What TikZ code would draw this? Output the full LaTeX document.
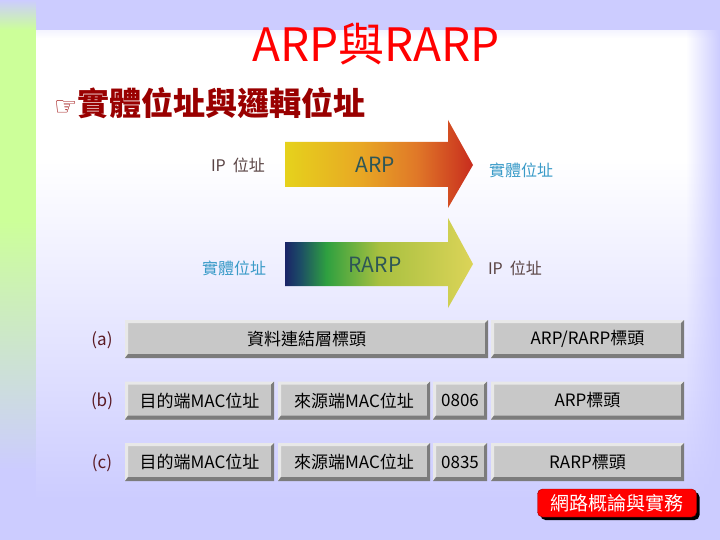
\documentclass[tikz,border=0pt]{standalone}
\usepackage{fontspec}
\setmainfont{Noto Sans CJK TC}
\newfontfamily\symfont{DejaVu Sans}
\usetikzlibrary{fadings,shadows}

% slide colours
\definecolor{slidebg}{HTML}{CCCCFF}
\definecolor{stripgreen}{HTML}{CCFF99}
\definecolor{titlered}{HTML}{FF0000}
\definecolor{headred}{HTML}{990000}
\definecolor{labelteal}{HTML}{3A9BC8}
\definecolor{labelbrown}{HTML}{5A4444}
\definecolor{arrowtext}{HTML}{2E5656}
\definecolor{cellgray}{HTML}{C8C8C8}
\definecolor{cellhi}{HTML}{E8E8E8}
\definecolor{cellshade}{HTML}{7C7C7C}
\definecolor{rowlabel}{HTML}{5A1A24}

% arrow colours
\definecolor{arpA}{HTML}{E6D21C}
\definecolor{arpB}{HTML}{E8A824}
\definecolor{arpC}{HTML}{E07828}
\definecolor{arpD}{HTML}{C82C1E}
\definecolor{rarpA}{HTML}{1A2468}
\definecolor{rarpB}{HTML}{1C4C66}
\definecolor{rarpC}{HTML}{2EA040}
\definecolor{rarpD}{HTML}{A8C040}
\definecolor{rarpE}{HTML}{DCD458}

\pgfdeclarehorizontalshading{arpshade}{100bp}{color(0bp)=(arpA); color(25bp)=(arpA); color(45bp)=(arpB); color(60bp)=(arpC); color(75bp)=(arpD); color(100bp)=(arpD)}
\pgfdeclarehorizontalshading{rarpshade}{100bp}{color(0bp)=(rarpA); color(25bp)=(rarpA); color(29bp)=(rarpB); color(36bp)=(rarpC); color(50bp)=(rarpD); color(75bp)=(rarpE); color(100bp)=(rarpE)}

\tikzfading[name=fadeleft, left color=transparent!100, right color=transparent!0]
\tikzfading[name=fadedown, top color=transparent!0, bottom color=transparent!100]

\newcommand{\fsz}[1]{\fontsize{#1}{#1}\selectfont}

\tikzset{
  cell/.style={fill=cellgray, minimum height=38pt, inner sep=0pt, font=\fsz{17},
    path picture={
      \fill[cellhi] (path picture bounding box.south west) -- (path picture bounding box.north west)
        -- (path picture bounding box.north east) -- ([xshift=-3pt,yshift=-3pt]path picture bounding box.north east)
        -- ([xshift=3pt,yshift=-3pt]path picture bounding box.north west) -- ([xshift=3pt,yshift=4pt]path picture bounding box.south west) -- cycle;
      \fill[cellshade] (path picture bounding box.south west) -- (path picture bounding box.south east)
        -- (path picture bounding box.north east) -- ([xshift=-3pt,yshift=-3pt]path picture bounding box.north east)
        -- ([xshift=-3pt,yshift=4pt]path picture bounding box.south east) -- ([xshift=3pt,yshift=4pt]path picture bounding box.south west) -- cycle;
    }},
  rowtag/.style={text=rowlabel, font=\fsz{17}},
  addr/.style={font=\fsz{16}},
  proto/.style={text=arrowtext, font=\fsz{21}},
  footer/.style={fill=red, draw=red!60!black, rounded corners=5pt, text=white, font=\fsz{19},
    minimum width=159pt, minimum height=28pt, inner sep=0pt,
    drop shadow={shadow xshift=3pt, shadow yshift=-3pt, fill=black, opacity=1}}
}

\begin{document}
\begin{tikzpicture}[x=1pt, y=-1pt]
    \useasboundingbox (0,0) rectangle (720,540);

    % Background of the slide
    \fill[slidebg] (0,0) rectangle (720,540);
    \shade[top color=slidebg, bottom color=stripgreen] (0,0) rectangle (36,30);
    \fill[stripgreen] (0,30) rectangle (36,220);
    \shade[top color=stripgreen, bottom color=slidebg] (0,220) rectangle (36,470);
    \fill[white] (36,30) rectangle (720,160);
    \shade[top color=white, bottom color=slidebg] (36,160) rectangle (720,500);
    \fill[slidebg, path fading=fadedown] (36,0) rectangle (720,38);
    \fill[slidebg, path fading=fadeleft] (686,0) rectangle (720,540);

    % Title and topic
    \node[text=titlered, font=\fsz{46}] (title) at (376,44) {ARP與RARP};
    \node[anchor=west, text=headred, inner sep=0pt] (topic) at (54,103)
        {{\symfont\fsz{26}☞}{\fsz{32}\bfseries 實體位址與邏輯位址}};

    % ARP arrow
    \shade[shading=arpshade] (285,142) -- (448,142) -- (448,120) -- (473,165)
        -- (448,208) -- (448,187) -- (285,187) -- cycle;
    \node[addr, text=labelbrown] (ipsrc) at (238,165) {IP\ \ 位址};
    \node[proto] (arpname) at (375,165) {ARP};
    \node[addr, text=labelteal] (macdst) at (521,170) {實體位址};

    % RARP arrow
    \shade[shading=rarpshade] (285,242) -- (448,242) -- (448,218) -- (473,264)
        -- (448,308) -- (448,286) -- (285,286) -- cycle;
    \node[addr, text=labelteal] (macsrc) at (234,268) {實體位址};
    \node[proto] (rarpname) at (375,265) {RARP};
    \node[addr, text=labelbrown] (ipdst) at (515,268) {IP\ \ 位址};

    % Frame formats
    \node[rowtag] (rowa) at (102,340) {(a)};
    \node[cell, minimum width=363pt] (dlhdr) at (306.5,339) {資料連結層標頭};
    \node[cell, minimum width=193pt] (arphdr) at (587.5,339) {ARP/RARP標頭};

    \node[rowtag] (rowb) at (102,401) {(b)};
    \node[cell, minimum width=149pt] (dstb) at (199.5,400.5) {目的端MAC位址};
    \node[cell, minimum width=152pt] (srcb) at (354,400.5) {來源端MAC位址};
    \node[cell, minimum width=54pt] (typeb) at (460,400.5) {0806};
    \node[cell, minimum width=193pt] (arpb) at (587.5,400.5) {ARP標頭};

    \node[rowtag] (rowc) at (102,463) {(c)};
    \node[cell, minimum width=149pt] (dstc) at (199.5,462) {目的端MAC位址};
    \node[cell, minimum width=152pt] (srcc) at (354,462) {來源端MAC位址};
    \node[cell, minimum width=54pt] (typec) at (460,462) {0835};
    \node[cell, minimum width=193pt] (rarpc) at (587.5,462) {RARP標頭};

    % Course tag
    \node[footer] (course) at (617,503) {網路概論與實務};
\end{tikzpicture}
\end{document}
